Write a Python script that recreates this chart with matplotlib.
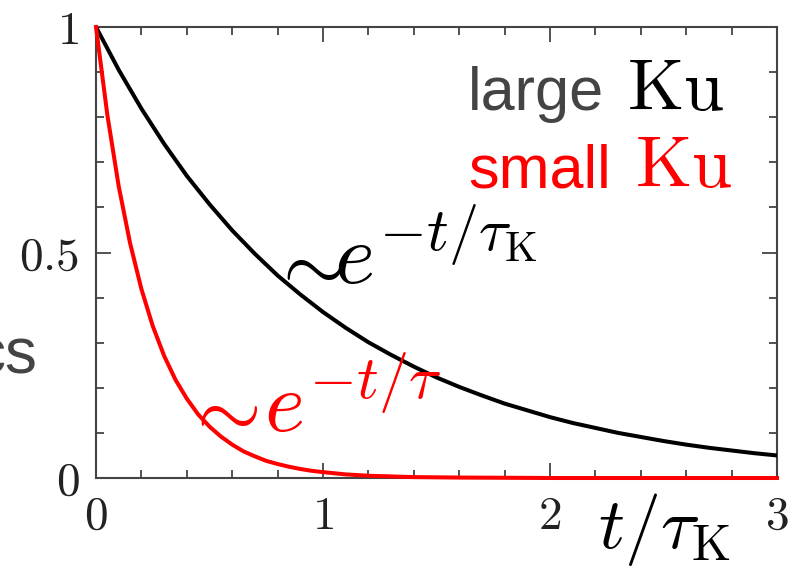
import matplotlib
matplotlib.use("Agg")
import matplotlib.pyplot as plt
from matplotlib.ticker import MultipleLocator

# values
t_large = [0.0, 0.1, 0.2, 0.3, 0.4, 0.5, 0.6, 0.7, 0.8, 0.9, 1.0,
           1.1, 1.2, 1.3, 1.4, 1.5, 1.6, 1.7, 1.8, 1.9, 2.0,
           2.1, 2.2, 2.3, 2.4, 2.5, 2.6, 2.7, 2.8, 2.9, 3.0]
y_large = [1.000, 0.905, 0.819, 0.741, 0.670, 0.607, 0.549, 0.497, 0.449, 0.407, 0.368,
           0.333, 0.301, 0.273, 0.247, 0.223, 0.202, 0.183, 0.165, 0.150, 0.135,
           0.122, 0.111, 0.100, 0.091, 0.082, 0.074, 0.067, 0.061, 0.055, 0.050]

t_small = [0.0, 0.05, 0.1, 0.15, 0.2, 0.25, 0.3, 0.35, 0.4, 0.45, 0.5,
           0.55, 0.6, 0.65, 0.7, 0.75, 0.8, 0.85, 0.9, 0.95, 1.0,
           1.1, 1.2, 1.4, 1.6, 2.0, 3.0]
y_small = [1.000, 0.805, 0.647, 0.521, 0.419, 0.337, 0.271, 0.218, 0.176, 0.141, 0.114,
           0.092, 0.074, 0.059, 0.048, 0.038, 0.031, 0.025, 0.020, 0.016, 0.013,
           0.008, 0.005, 0.002, 0.001, 0.000, 0.000]

xticks = [0, 1, 2, 3]
xtick_labels = ["$0$", "$1$", "$2$", "$3$"]
yticks = [0, 0.5, 1]
ytick_labels = ["$0$", "$0.5$", "$1$"]

plt.rcParams['mathtext.fontset'] = 'cm'
plt.rcParams['font.family'] = ['Liberation Sans', 'DejaVu Sans']

fig = plt.figure(figsize=(7.99, 5.71), dpi=100)
ax = fig.add_axes([96 / 799, 1 - 478 / 571, 681 / 799, 451 / 571])

ax.plot(t_large, y_large, color='black', lw=2.9, zorder=3)
ax.plot(t_small, y_small, color='#ff0000', lw=2.9, zorder=4, clip_on=False)

ax.set_xlim(0, 3)
ax.set_ylim(0, 1)
ax.set_xticks(xticks)
ax.set_xticklabels(xtick_labels)
ax.set_yticks(yticks)
ax.set_yticklabels(ytick_labels)
ax.xaxis.set_minor_locator(MultipleLocator(0.2))
ax.yaxis.set_minor_locator(MultipleLocator(0.1))
ax.tick_params(which='both', direction='in', top=True, right=True,
               color='#444444', width=1.3, labelsize=34, labelcolor='#222222')
ax.tick_params(which='major', length=11)
ax.tick_params(which='minor', length=6)
ax.tick_params(axis='x', pad=12)
ax.tick_params(axis='y', pad=12)
for s in ax.spines.values():
    s.set_color('#444444')
    s.set_linewidth(1.5)

# curve labels: tilde and exponential drawn as separate texts
ax.text(0.925, 0.468, r"$\sim$", fontsize=60, color='black',
        ha='center', va='center')
ax.text(1.05, 0.428, r"$e^{-t/\tau_{\mathrm{K}}}$", fontsize=62,
        color='black', ha='left', va='baseline')
ax.text(0.548, 0.144, r"$\sim$", fontsize=60, color='#ff0000',
        ha='center', va='center')
ax.text(0.74, 0.10, r"$e^{-t/\tau}$", fontsize=62,
        color='#ff0000', ha='left', va='baseline')

# axis label
fig.text(598 / 799, 1 - 548 / 571, r"$t/\tau_{\mathrm{K}}$", fontsize=52,
         ha='left', va='baseline')

# legend-like text
fig.text(468 / 799, 1 - 110 / 571, "large", fontsize=44, color='#444444',
         ha='left', va='baseline')
fig.text(627 / 799, 1 - 110 / 571, r"$\mathrm{Ku}$", fontsize=52, color='black',
         ha='left', va='baseline')
fig.text(468 / 799, 1 - 187 / 571, "small", fontsize=44, color='#ff0000',
         ha='left', va='baseline')
fig.text(635 / 799, 1 - 187 / 571, r"$\mathrm{Ku}$", fontsize=52, color='#ff0000',
         ha='left', va='baseline')

# cut-off text on the left edge (also cut in the reference)
fig.text(37 / 799, 1 - 373 / 571, "cs", fontsize=46, color='#444444',
         ha='right', va='baseline')

fig.savefig("out.png", dpi=100)
